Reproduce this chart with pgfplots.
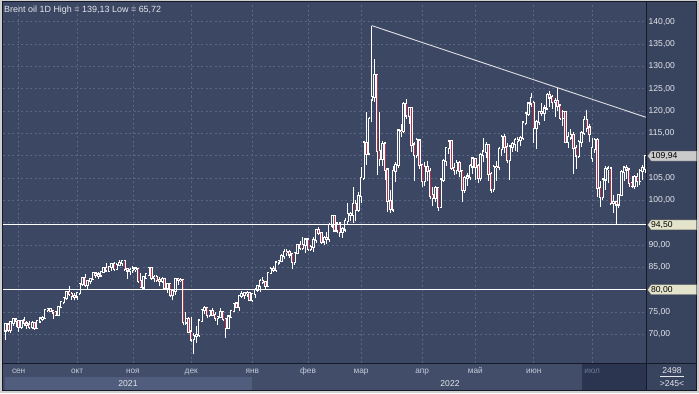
\documentclass[border=0pt]{standalone}
\usepackage{fontspec}
\setmainfont{Liberation Sans}
\usepackage{pgfplots}
\pgfplotsset{compat=1.18}
\usepackage{pgfplotstable}

\definecolor{bgplot}{HTML}{3B4763}
\definecolor{bgright}{HTML}{38435E}
\definecolor{bgbottom}{HTML}{424D6A}
\definecolor{band}{HTML}{515D7C}
\definecolor{julblk}{HTML}{2B354F}
\definecolor{framegray}{HTML}{CFCFCF}
\definecolor{darkline}{HTML}{141A28}
\definecolor{gridcol}{HTML}{5A6682}
\definecolor{bearred}{HTML}{B8304A}
\definecolor{ticktext}{HTML}{E4E6EC}
\definecolor{monthtext}{HTML}{C4CAD8}
\definecolor{dimtext}{HTML}{6E7993}
\definecolor{boxbeige}{HTML}{E4E4CC}
\definecolor{boxgray}{HTML}{CACACA}
\definecolor{trendcol}{HTML}{E0E0E0}

\pgfplotstableread{
i O H L C
0 70.9 72.4 68.7 72.25
1 72.2 72.4 70.6 71.07
2 71.0 72.9 70.3 72.70
3 72.6 73.6 71.9 73.41
4 73.3 73.5 71.7 72.99
5 72.9 73.1 70.6 71.59
6 71.7 73.3 71.3 73.03
7 73.1 73.8 71.9 72.61
8 72.4 73.0 71.1 72.22
9 72.2 72.9 71.1 71.69
10 71.6 72.9 71.3 72.60
11 72.6 72.8 71.0 71.45
12 71.5 73.1 71.3 72.92
13 72.9 73.9 72.5 73.51
14 73.5 74.2 73.0 73.60
15 73.6 75.6 73.4 75.46
16 75.4 76.0 74.9 75.67
17 75.7 76.0 75.0 75.34
18 75.3 75.5 73.4 74.92
19 74.9 75.3 74.1 74.36
20 74.4 76.4 74.1 76.19
21 76.2 77.4 75.8 77.25
22 77.2 78.2 76.7 78.09
23 78.1 79.6 77.8 79.53
24 79.5 80.8 78.6 79.09
25 79.1 79.5 77.6 78.64
26 78.6 79.2 77.6 78.52
27 78.5 79.5 77.8 79.28
28 79.3 81.5 78.9 81.26
29 81.3 82.8 80.9 82.56
30 82.6 83.5 80.6 81.08
31 81.1 82.2 79.9 81.95
32 81.9 82.7 81.2 82.39
33 82.4 84.0 82.2 83.65
34 83.6 84.0 82.6 83.42
35 83.4 83.9 82.5 83.18
36 83.2 84.3 82.9 84.00
37 84.0 85.1 83.8 84.86
38 84.9 86.0 83.9 84.33
39 84.3 85.4 84.0 85.08
40 85.1 85.9 84.2 85.82
41 85.8 86.1 84.3 84.61
42 84.6 85.9 84.4 85.53
43 85.5 86.7 85.2 85.99
44 86.0 86.5 85.4 86.40
45 86.4 86.6 84.2 84.58
46 84.6 84.9 82.3 84.32
47 84.3 84.9 83.2 84.38
48 84.4 85.2 83.8 84.71
49 84.7 85.0 83.9 84.72
50 84.7 84.9 81.5 81.99
51 82.0 83.8 80.3 80.54
52 80.5 82.9 80.4 82.74
53 82.7 83.8 82.3 83.43
54 83.4 84.9 83.3 84.78
55 84.8 85.1 82.1 82.64
56 82.6 83.3 81.7 82.87
57 82.9 83.2 81.7 82.17
58 82.2 82.9 80.9 82.05
59 82.0 82.9 81.6 82.43
60 82.4 82.6 79.9 80.28
61 80.3 81.5 79.3 81.24
62 81.2 81.4 78.3 78.89
63 78.9 80.1 77.6 79.70
64 79.7 82.5 78.9 82.31
65 82.3 82.7 81.0 82.25
66 82.2 82.7 81.7 82.22
67 82.2 82.4 72.0 72.72
68 72.7 75.0 72.1 73.44
69 73.4 74.0 70.2 70.57
70 70.6 73.9 68.4 68.87
71 68.9 70.3 65.7 69.67
72 69.7 71.8 68.1 69.88
73 69.9 73.4 69.5 73.08
74 73.1 75.6 72.9 75.44
75 75.4 76.3 74.6 75.82
76 75.8 76.0 73.7 74.42
77 74.4 75.5 73.8 75.15
78 75.2 75.9 74.3 74.39
79 74.4 74.9 73.1 73.70
80 73.7 74.1 72.2 73.88
81 73.9 75.8 73.7 75.02
82 75.0 75.1 72.9 73.52
83 73.5 73.7 69.3 71.52
84 71.5 74.0 71.4 73.98
85 74.0 75.4 73.6 75.29
86 75.3 76.9 75.0 76.85
87 76.9 76.9 75.8 76.14
88 76.1 78.8 75.3 78.60
89 78.6 79.6 78.2 78.94
90 78.9 79.5 78.0 79.23
91 79.2 79.7 78.4 79.32
92 79.3 79.5 77.6 77.78
93 77.8 79.3 77.2 78.98
94 79.0 80.4 78.2 80.00
95 80.0 81.0 79.5 80.80
96 80.8 82.4 79.4 81.99
97 82.0 82.9 81.2 81.75
98 81.7 82.0 80.2 80.87
99 80.9 84.0 80.8 83.72
100 83.7 85.0 83.5 84.67
101 84.7 85.4 84.0 84.47
102 84.5 86.4 84.0 86.06
103 86.1 86.7 85.6 86.48
104 86.5 88.1 86.2 87.51
105 87.5 89.2 86.9 88.44
106 88.4 89.1 87.5 88.38
107 88.4 88.8 87.1 87.89
108 87.9 88.1 84.7 86.27
109 86.3 88.4 85.6 88.20
110 88.2 90.3 87.9 89.96
111 90.0 91.0 88.9 89.34
112 89.3 91.7 88.8 90.03
113 90.0 91.3 88.2 91.21
114 91.2 91.4 88.7 89.16
115 89.2 90.1 88.7 89.47
116 89.5 91.7 88.4 91.11
117 91.1 93.7 90.5 93.27
118 93.3 94.0 92.3 92.69
119 92.7 92.7 90.3 90.78
120 90.8 92.1 90.1 91.55
121 91.6 93.0 90.2 91.41
122 91.4 95.0 90.7 94.44
123 94.4 96.8 93.8 96.48
124 96.5 96.5 92.9 93.28
125 93.3 95.1 92.6 94.81
126 94.8 95.0 91.7 92.97
127 93.0 94.0 91.6 93.54
128 93.5 96.0 93.0 95.39
129 95.4 99.5 94.6 96.84
130 96.8 97.5 95.4 96.84
131 96.8 103.0 95.0 99.08
132 99.1 100.0 95.3 97.93
133 97.9 101.9 97.5 100.99
134 101.0 107.5 99.5 104.97
135 105.0 113.0 104.5 112.93
136 112.9 119.8 108.0 110.46
137 110.5 118.7 110.1 118.11
138 122.6 139.13 117.5 123.21
139 123.2 131.6 122.0 127.98
140 128.0 128.4 105.6 111.14
141 111.1 119.8 107.8 109.33
142 109.3 113.4 107.6 112.67
143 112.7 113.0 104.6 106.90
144 106.9 107.1 97.4 99.91
145 99.9 102.4 97.2 98.02
146 98.0 107.6 97.5 106.64
147 106.6 108.7 104.2 107.93
148 107.9 115.8 107.3 115.62
149 115.6 117.1 114.1 115.48
150 115.5 122.0 115.1 121.60
151 121.6 122.8 118.2 119.03
152 119.0 121.0 117.2 120.65
153 120.6 120.7 110.9 112.48
154 112.5 113.1 104.4 110.23
155 110.2 114.0 109.4 113.45
156 113.4 113.5 107.1 107.91
157 107.9 108.0 102.9 104.39
158 104.4 108.6 103.2 107.53
159 107.5 108.8 104.4 106.64
160 106.6 107.2 100.2 101.07
161 101.1 103.0 98.8 100.58
162 100.6 103.2 99.7 102.78
163 102.8 102.9 97.6 98.48
164 98.5 105.0 98.2 104.64
165 104.6 109.2 104.1 108.78
166 108.8 111.9 107.7 111.70
167 111.7 113.4 110.4 113.16
168 113.2 113.3 106.8 107.25
169 107.3 108.4 105.6 106.80
170 106.8 109.1 106.0 108.33
171 108.3 108.8 105.3 106.65
172 106.6 106.7 99.7 102.32
173 102.3 105.5 101.6 104.99
174 105.0 106.1 103.3 105.32
175 105.3 108.1 104.5 107.59
176 107.6 109.4 106.0 109.34
177 109.3 109.5 104.5 107.58
178 107.6 108.1 103.8 104.97
179 105.0 110.5 104.3 110.14
180 110.1 114.0 108.7 110.90
181 110.9 113.1 109.4 112.39
182 112.4 112.6 104.3 105.94
183 105.9 106.4 101.7 102.46
184 102.5 107.9 101.9 107.51
185 107.5 108.9 104.4 107.45
186 107.5 112.0 106.9 111.55
187 111.6 114.6 110.0 114.24
188 114.2 114.9 110.7 111.93
189 111.9 112.8 108.3 109.11
190 109.1 112.2 104.6 112.04
191 112.0 113.0 110.9 112.55
192 112.6 114.0 111.0 113.42
193 113.4 114.2 110.9 113.56
194 113.6 114.4 112.1 114.03
195 114.0 117.5 113.6 117.40
196 117.4 119.5 116.8 119.43
197 119.4 121.9 118.9 121.67
198 121.7 124.0 121.0 122.84
199 121.8 122.3 112.8 116.29
200 116.3 118.0 111.6 117.61
201 117.6 120.0 116.8 119.72
202 119.7 121.9 118.8 119.51
203 119.5 121.3 117.8 120.57
204 120.6 124.0 120.2 123.58
205 123.6 124.4 121.0 123.07
206 123.1 123.5 120.5 122.01
207 122.0 123.0 118.7 122.27
208 122.3 125.2 120.1 121.17
209 121.2 121.5 118.0 118.51
210 118.5 120.3 116.6 119.81
211 119.8 120.0 112.9 113.12
212 113.1 115.2 111.7 114.13
213 114.1 116.0 113.5 114.65
214 114.7 115.2 106.0 111.74
215 111.7 112.3 107.0 110.05
216 110.0 113.5 109.5 113.12
217 113.1 115.5 111.9 115.09
218 115.1 118.9 114.7 117.98
219 118.0 120.2 115.4 116.26
220 116.3 117.0 113.0 114.81
221 109.5 113.9 108.7 111.63
222 111.6 113.9 110.6 113.50
223 113.5 113.9 100.8 102.77
224 102.8 104.4 98.5 100.69
225 100.7 105.0 100.1 104.65
226 104.7 107.6 102.4 107.02
227 107.0 107.8 103.8 107.10
228 107.1 107.4 99.0 99.49
229 99.5 101.3 97.2 99.57
230 99.6 99.7 94.5 99.10
231 99.1 101.4 98.3 101.16
232 101.2 106.8 100.9 106.27
233 106.3 107.7 104.4 107.35
234 107.3 108.0 104.7 106.92
235 106.9 107.0 103.0 103.86
236 103.9 105.4 102.7 103.20
237 103.2 105.6 102.6 105.15
238 105.2 106.1 103.0 104.40
239 104.4 107.0 103.5 106.62
240 106.6 107.9 104.6 107.14
241 107.1 110.2 106.2 109.94
}\ohlc

\begin{document}
\begin{tikzpicture}
\begin{scope}[x=1bp,y=1bp,shift={(-3bp,-30bp)}]
\useasboundingbox (0,0) rectangle (699,393);
% frame and panels (y = 393 - pixel row)
\fill[framegray] (0,0) rectangle (699,393);
\fill[darkline] (2,2) rectangle (697,392);
\fill[bgplot] (3,30) rectangle (646,391);
\fill[bgright] (647,30) rectangle (696,391);
\fill[bgbottom] (3,3) rectangle (646,29);
\fill[band] (5,3) rectangle (252,16);
\fill[julblk] (582,3) rectangle (646,29);
\fill[bgright] (647,3) rectangle (696,29);
\end{scope}

\begin{axis}[
  anchor=south west,
  scale only axis, width=643bp, height=360bp,
  xmin=-0.9, xmax=241.3, ymin=63.59, ymax=144.19,
  axis line style={draw=none}, major tick length=0pt,
  ytick={70,75,...,140},
  yticklabels={{70,00},{75,00},{},{85,00},{90,00},{},{100,00},{105,00},{},{115,00},{120,00},{125,00},{130,00},{135,00},{140,00}},
  yticklabel pos=right,
  yticklabel style={anchor=west, inner sep=0pt, xshift=2.5bp, font=\fontsize{8.6}{10}\selectfont, text=ticktext},
  xtick={5,27,48,70,93,114,134,157,177,199,221},
  xticklabels={сен,окт,ноя,дек,янв,фев,мар,апр,май,июн,{\color{dimtext}июл}},
  xticklabel style={anchor=base, inner sep=0pt, yshift=-10bp, font=\fontsize{8.3}{10}\selectfont, text=monthtext},
  grid=major,
  major grid style={gridcol, dash pattern=on 2bp off 2.5bp, line width=0.6bp},
]
% wicks
\addplot[draw=white, line width=0.85bp, quiver={u=0, v=\thisrow{H}-\thisrow{L}}] table[x=i, y=L] {\ohlc};
% bodies
\addplot[draw=white, line width=2.4bp, line cap=rect, quiver={u=0, v=\thisrow{C}-\thisrow{O}}] table[x=i, y=O] {\ohlc};
\addplot[draw=bgplot, line width=0.8bp, quiver={u=0, v=\thisrow{C}-\thisrow{O}},
  y filter/.expression={\thisrow{C}>\thisrow{O} ? y : nan}] table[x=i, y=O] {\ohlc};
\addplot[draw=bearred, line width=0.9bp, quiver={u=0, v=\thisrow{C}-\thisrow{O}},
  y filter/.expression={\thisrow{C}<\thisrow{O} ? y : nan}] table[x=i, y=O] {\ohlc};
% levels and trend line
\addplot[white, line width=0.9bp] coordinates {(-0.9,94.5) (241.3,94.5)};
\addplot[white, line width=0.9bp] coordinates {(-0.9,80) (241.3,80)};
\addplot[trendcol, line width=0.9bp] coordinates {(138,139.13) (241.3,118.6)};
\end{axis}

\begin{scope}[x=1bp,y=1bp,shift={(-3bp,-30bp)}]
% separators
\fill[darkline] (646,2) rectangle (647,392);
\fill[darkline] (3,29) rectangle (697,30);

% price boxes
\filldraw[fill=boxgray, draw=gray!70!black, line width=0.4bp] (647.5,237) -- (651,242) -- (696.5,242) -- (696.5,232) -- (651,232) -- cycle;
\node[anchor=west, inner sep=0pt, font=\fontsize{8.6}{10}\selectfont, text=black] at (651,237) {109,94};
\filldraw[fill=boxbeige, draw=gray!70!black, line width=0.4bp] (647.5,168.1) -- (651,173.1) -- (696.5,173.1) -- (696.5,163.1) -- (651,163.1) -- cycle;
\node[anchor=west, inner sep=0pt, font=\fontsize{8.6}{10}\selectfont, text=black] at (651,168.1) {94,50};
\filldraw[fill=boxbeige, draw=gray!70!black, line width=0.4bp] (647.5,103.3) -- (651,108.3) -- (696.5,108.3) -- (696.5,98.3) -- (651,98.3) -- cycle;
\node[anchor=west, inner sep=0pt, font=\fontsize{8.6}{10}\selectfont, text=black] at (651,103.3) {80,00};

% title
\node[anchor=base west, inner sep=0pt, font=\fontsize{9}{10}\selectfont, text=ticktext] at (4,381) {Brent oil 1D High = 139,13 Low = 65,72};

% years
\node[anchor=base, inner sep=0pt, font=\fontsize{8.6}{10}\selectfont, text=ticktext] at (128,6.5) {2021};
\node[anchor=base, inner sep=0pt, font=\fontsize{8.6}{10}\selectfont, text=ticktext] at (450,6.5) {2022};

% bottom-right box
\node[anchor=base, inner sep=0pt, font=\fontsize{8.6}{10}\selectfont, text=ticktext] at (672,20) {2498};
\draw[ticktext, line width=0.5bp] (660,17) -- (684,17);
\node[anchor=base, inner sep=0pt, font=\fontsize{8.6}{10}\selectfont, text=ticktext] at (672,6.5) {>245<};
\end{scope}
\end{tikzpicture}
\end{document}
